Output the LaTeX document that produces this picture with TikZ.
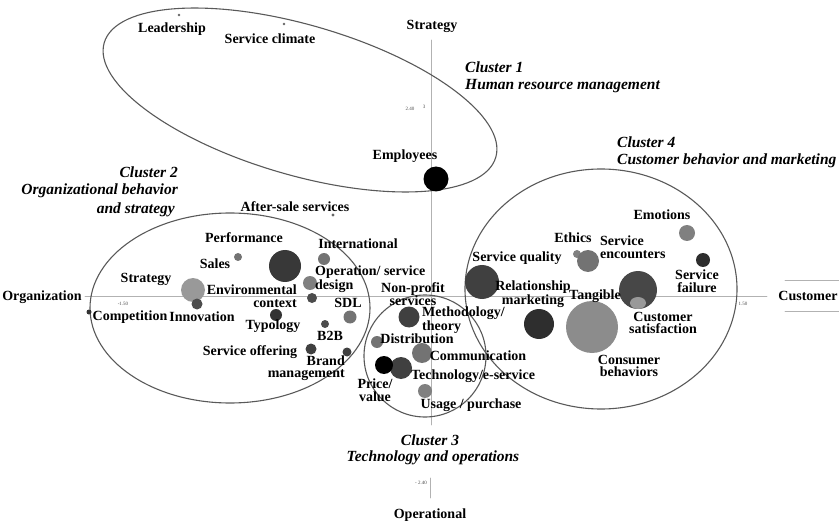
\documentclass[tikz,border=0pt]{standalone}
\usepackage{fontspec}
\setmainfont{Liberation Serif}
\begin{document}
\begin{tikzpicture}[x=1pt,y=-1pt,line cap=round,line join=round,
    lbl/.style={font=\fontsize{14}{12.5}\selectfont\bfseries,inner sep=0pt,align=center},
    clus/.style={font=\fontsize{15.5}{17}\selectfont\bfseries\itshape,inner sep=0pt},
    tick/.style={font=\fontsize{5}{5}\selectfont,inner sep=0pt,text=black!70},
    axis/.style={draw=black!30,line width=0.9pt},
    rim/.style={draw=black!65,line width=1.1pt}]

      \useasboundingbox (0,0) rectangle (839,524);

      % axes
      \draw[axis] (85,296) -- (767,296);
      \draw[axis] (431,40) -- (431,425);
      \draw[axis] (430,478) -- (430,498);
      \draw[axis] (785,280) -- (839,280);
      \draw[axis] (785,311) -- (839,311);

      \node[lbl] (org) at (42,297) {Organization};
      \node[lbl] (cust) at (808,296) {Customer};
      \node[lbl] (strat) at (432,26) {Strategy};
      \node[lbl] (oper) at (430,515) {Operational};

      \node[tick] (xmin) at (123,304) {-1.50};
      \node[tick] (xmax) at (743,304) {1.50};
      \node[tick] (ymax) at (410,109) {2.40};
      \node[tick] (ythree) at (424,107) {3};
      \node[tick] (ymin) at (421,483) {- 2.40};

      % cluster outlines
      \draw[rim, rotate around={-16.3:(300,100)}] (300,100) ellipse (204 and 75);
      \draw[rim] (230,308) ellipse (140 and 95);
      \draw[rim] (425,356) circle (61);
      \draw[rim] (601,289) ellipse (136 and 120);

      % cluster 1
      \fill[black!60] (179,15) circle (1.3);
      \fill[black!60] (284,24) circle (1.3);
      \fill (436,179) circle (12.5);
      \node[lbl] (lead) at (172,29) {Leadership};
      \node[lbl] (clim) at (270,39) {Service climate};
      \node[lbl] (empl) at (405,156) {Employees};
      \node[clus,anchor=west] (c1a) at (465,67) {Cluster 1};
      \node[clus,anchor=west] (c1b) at (465,86) {Human resource management};

      % cluster 2
      \fill[black!60] (333,215) circle (1.6);
      \fill[black!78] (285,266) circle (16);
      \fill[black!55] (238,257) circle (4);
      \fill[black!55] (324,259) circle (6);
      \fill[black!50] (310,283) circle (7);
      \fill[black!40] (193,290) circle (12);
      \fill[black!70] (197,304) circle (5.5);
      \fill[black!80] (89,312) circle (2.5);
      \fill[black!70] (312,298) circle (5);
      \fill[black!55] (350,317) circle (6.5);
      \fill[black!80] (276,315) circle (6);
      \fill[black!70] (325,324) circle (4);
      \fill[black!75] (311,349) circle (5.5);
      \fill[black!75] (347,352) circle (4.5);
      \node[lbl] (after) at (295,207) {After-sale services};
      \node[lbl] (perf) at (244,238) {Performance};
      \node[lbl] (sales) at (215,264) {Sales};
      \node[lbl] (intl) at (358,244) {International};
      \node[lbl,align=left,anchor=west] (opdes) at (315,279) {Operation/ service\\design};
      \node[lbl] (strg) at (146,279) {Strategy};
      \node[lbl] (innov) at (202,317) {Innovation};
      \node[lbl] (comp) at (130,317) {Competition};
      \node[lbl,align=right,anchor=east] (env) at (297,296) {Environmental\\context};
      \node[lbl] (sdl) at (348,303) {SDL};
      \node[lbl] (typo) at (273,326) {Typology};
      \node[lbl] (btob) at (330,336) {B2B};
      \node[lbl] (offer) at (250,352) {Service offering};
      \node[lbl,align=right,anchor=east] (brand) at (345,368) {Brand\\management};
      \node[clus,anchor=east] (c2a) at (178,172) {Cluster 2};
      \node[clus,anchor=east] (c2b) at (178,191) {Organizational behavior};
      \node[clus,anchor=east] (c2c) at (175,210) {and strategy};

      % cluster 3
      \fill[black!75] (409,317) circle (10.5);
      \fill[black!55] (377,342) circle (6);
      \fill[black!55] (422,353) circle (10);
      \fill[black!75] (401,368) circle (11);
      \fill (384,365) circle (9);
      \fill[black!50] (425,391) circle (7);
      \node[lbl] (nonp) at (413,294) {Non-profit\\services};
      \node[lbl,align=left,anchor=west] (meth) at (422,320) {Methodology/\\theory};
      \node[lbl] (dist) at (417,339) {Distribution};
      \node[lbl] (comm) at (478,356) {Communication};
      \node[lbl] (price) at (375,390) {Price/\\value};
      \node[lbl] (tech) at (473,376) {Technology/e-service};
      \node[lbl] (usage) at (471,405) {Usage / purchase};
      \node[clus] (c3a) at (430,440) {Cluster 3};
      \node[clus] (c3b) at (433,458) {Technology and operations};

      % cluster 4
      \fill[black!50] (687,233) circle (8);
      \fill[black!50] (577,254) circle (4);
      \fill[black!55] (588,261) circle (11);
      \fill[black!75] (482,282) circle (17);
      \fill[black!82] (703,260) circle (7);
      \fill[black!82] (539,324) circle (15);
      \fill[black!72] (638,290) circle (19);
      \fill[black!40] (638,303) ellipse (8 and 6);
      \fill[black!45] (592,327) circle (26);
      \node[lbl] (emo) at (662,215) {Emotions};
      \node[lbl] (ethic) at (573,238) {Ethics};
      \node[lbl,align=left,anchor=west] (enc) at (600,247) {Service\\encounters};
      \node[lbl] (sq) at (517,258) {Service quality};
      \node[lbl] (fail) at (697,281) {Service\\failure};
      \node[lbl] (rel) at (533,294) {Relationship\\marketing};
      \node[lbl] (tang) at (595,296) {Tangible};
      \node[lbl] (sat) at (663,323) {Customer\\satisfaction};
      \node[lbl] (cons) at (629,366) {Consumer\\behaviors};
      \node[clus,anchor=west] (c4a) at (617,142) {Cluster 4};
      \node[clus,anchor=west] (c4b) at (617,161) {Customer behavior and marketing};

\end{tikzpicture}
\end{document}
